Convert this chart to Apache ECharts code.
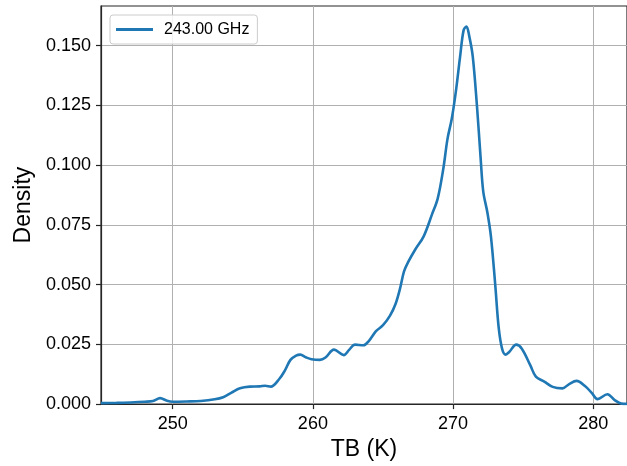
<!DOCTYPE html>
<html>
<head>
<meta charset="utf-8">
<script src="https://cdn.jsdelivr.net/npm/echarts@6/dist/echarts.min.js"></script>
<style>
  html, body { margin: 0; padding: 0; background: #ffffff; }
  #chart { width: 627px; height: 466px; }
</style>
</head>
<body>
<div id="chart"></div>
<script>
// Kernel density estimate of brightness temperature at 243 GHz
const seriesName = '243.00 GHz';
const tb = [244.89, 246.0, 247.0, 248.0, 248.6, 249.1, 249.6, 250.0, 251.0, 252.0,
  253.0, 253.6, 254.2, 254.8, 255.5, 256.2, 256.6, 257.0, 257.6, 258.0,
  258.4, 258.8, 259.1, 259.5, 259.9, 260.5, 260.9, 261.5, 262.2, 262.6,
  263.0, 263.6, 264.0, 264.5, 265.0, 265.5, 265.9, 266.2, 266.5, 266.8,
  267.3, 267.9, 268.5, 268.9, 269.3, 269.6, 269.9, 270.2, 270.5, 270.75,
  270.95, 271.15, 271.4, 271.7, 271.95, 272.15, 272.45, 272.7, 273.0, 273.25,
  273.5, 273.75, 274.0, 274.5, 274.9, 275.5, 275.9, 276.5, 277.1, 277.8,
  278.3, 278.8, 279.4, 279.9, 280.3, 281.0, 281.5, 282.0, 282.4];
const density = [0.0004, 0.0005, 0.0007, 0.0010, 0.0013, 0.0025, 0.0014, 0.0010, 0.0011, 0.0013,
  0.0020, 0.0029, 0.0048, 0.0066, 0.0073, 0.0074, 0.0077, 0.0073, 0.0105, 0.0140,
  0.0185, 0.0203, 0.0207, 0.0196, 0.0188, 0.0185, 0.0195, 0.0228, 0.0205, 0.0228,
  0.0249, 0.0246, 0.0265, 0.0305, 0.0330, 0.0370, 0.0420, 0.0480, 0.0555, 0.0595,
  0.0647, 0.0702, 0.0795, 0.0860, 0.0985, 0.1110, 0.1193, 0.1310, 0.1455, 0.1565,
  0.1580, 0.1540, 0.1455, 0.1248, 0.1040, 0.0889, 0.0800, 0.0700, 0.0502, 0.0320,
  0.0230, 0.0207, 0.0218, 0.0249, 0.0232, 0.0163, 0.0115, 0.0094, 0.0072, 0.0066,
  0.0085, 0.0097, 0.0076, 0.0046, 0.0021, 0.0041, 0.0018, 0.0002, 0.0001];
const xTicks = [250, 260, 270, 280];
const yTicks = [0, 0.025, 0.05, 0.075, 0.1, 0.125, 0.15];
const xRange = [244.89, 282.4];
const yRange = [0, 0.1666];

const FONT = "'Liberation Sans', Arial, Helvetica, sans-serif";
const SPINE = '#262626';
const GRID = '#b0b0b0';

const chart = echarts.init(document.getElementById('chart'), null, { renderer: 'canvas' });
chart.setOption({
  animation: false,
  backgroundColor: '#ffffff',
  grid: {
    left: 101, top: 6, right: -2, bottom: 58,
    show: true, borderColor: SPINE, borderWidth: 1.2, backgroundColor: 'transparent'
  },
  legend: {
    left: 110, top: 15,
    padding: [6, 8, 6, 6],
    backgroundColor: 'rgba(255,255,255,0.85)',
    borderColor: '#cccccc', borderWidth: 1, borderRadius: 3,
    itemWidth: 37, itemHeight: 3, icon: 'rect',
    textStyle: { fontFamily: FONT, fontSize: 16, color: '#000', padding: [0, 0, 0, 6], lineHeight: 17 },
    data: [seriesName]
  },
  xAxis: {
    type: 'value', min: xRange[0], max: xRange[1],
    name: 'TB (K)', nameLocation: 'middle', nameGap: 32,
    nameTextStyle: { fontFamily: FONT, fontSize: 23, color: '#000' },
    axisLine: { show: true, lineStyle: { color: SPINE, width: 1.2 } },
    axisTick: { show: true, length: 5, customValues: xTicks, lineStyle: { color: SPINE, width: 1.2 } },
    axisLabel: { customValues: xTicks, margin: 11, fontFamily: FONT, fontSize: 18, color: '#000' },
    splitLine: { show: true, customValues: xTicks, lineStyle: { color: GRID, width: 1 } }
  },
  yAxis: {
    type: 'value', min: yRange[0], max: yRange[1],
    name: 'Density', nameLocation: 'middle', nameGap: 66,
    nameTextStyle: { fontFamily: FONT, fontSize: 23, color: '#000' },
    axisLine: { show: true, lineStyle: { color: SPINE, width: 1.2 } },
    axisTick: { show: true, length: 5, customValues: yTicks, lineStyle: { color: SPINE, width: 1.2 } },
    axisLabel: {
      customValues: yTicks, margin: 10, fontFamily: FONT, fontSize: 18, color: '#000',
      formatter: v => v.toFixed(3)
    },
    splitLine: { show: true, customValues: yTicks, lineStyle: { color: GRID, width: 1 } }
  },
  series: [{
    name: seriesName,
    type: 'line',
    data: tb.map((t, i) => [t, density[i]]),
    smooth: 0.35,
    showSymbol: false,
    symbol: 'none',
    clip: true,
    color: '#1f77b4',
    lineStyle: { color: '#1f77b4', width: 2.6 }
  }]
});
</script>
</body>
</html>
